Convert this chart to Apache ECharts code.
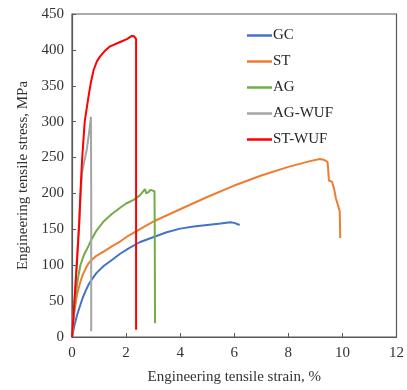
<!DOCTYPE html>
<html><head><meta charset="utf-8">
<script src="https://cdn.jsdelivr.net/npm/echarts@6/dist/echarts.min.js"></script>
<style>html,body{margin:0;padding:0;background:#fff}#c{width:407px;height:390px}</style>
</head><body><div id="c"></div>
<script>
const seriesNames = ['GC', 'ST', 'AG', 'AG-WUF', 'ST-WUF'];
const gcData = [[0,0],[0.05,9],[0.1,18],[0.2,32],[0.31,45],[0.4,55],[0.5,64],[0.6,72],[0.71,79],[0.9,89],[1.17,99],[1.5,108],[1.78,116],[2.08,123],[2.5,132],[3.0,139],[3.5,146],[4.0,151],[4.5,154],[5.0,156],[5.5,158],[5.85,160],[6.0,159],[6.2,156]];
const stData = [[0,0],[0.05,22],[0.1,38],[0.18,58],[0.31,77],[0.4,87],[0.5,95],[0.6,102],[0.71,107],[0.9,113],[1.17,119],[1.5,127],[1.78,133],[2.08,141],[2.5,150],[3.07,162],[4.0,178],[5.0,195],[6.0,211],[7.0,225],[8.0,237],[8.8,245],[9.17,248],[9.3,247],[9.45,244],[9.48,230],[9.5,218],[9.62,216],[9.7,205],[9.76,193],[9.85,182],[9.9,175],[9.91,158],[9.92,138]];
const agData = [[0,0],[0.05,25],[0.12,50],[0.18,72],[0.25,88],[0.31,100],[0.45,115],[0.61,127],[0.71,135],[0.9,148],[1.17,161],[1.46,171],[1.78,180],[2.0,186],[2.28,191],[2.5,197],[2.7,206],[2.75,200],[2.83,202],[2.9,205],[2.95,204],[3.05,203],[3.06,150],[3.07,19]];
const agWufData = [[0,0],[0.1,55],[0.2,120],[0.37,229],[0.55,262],[0.65,290],[0.7,307],[0.71,200],[0.71,8]];
const stWufData = [[0,0],[0.1,55],[0.2,115],[0.27,160],[0.31,200],[0.37,245],[0.47,300],[0.55,320],[0.61,335],[0.7,355],[0.8,372],[0.92,384],[1.04,391],[1.2,398],[1.41,405],[1.78,411],[2.03,415],[2.21,419.5],[2.3,419],[2.37,415],[2.37,200],[2.37,10]];
const xTicks = {min: 0, max: 12, interval: 2};
const yTicks = {min: 0, max: 450, interval: 50};
const colors = ['#4472C4', '#ED7D31', '#70AD47', '#A5A5A5', '#FF0000'];
const dataList = [gcData, stData, agData, agWufData, stWufData];

const font = 'Liberation Serif';
const chart = echarts.init(document.getElementById('c'), null, {renderer: 'canvas'});
chart.setOption({
  animation: false,
  backgroundColor: '#fff',
  grid: {left: 72, right: 10, top: 14, bottom: 51, show: true, borderColor: '#595959', borderWidth: 1.2, backgroundColor: 'transparent'},
  legend: {
    orient: 'vertical', left: 242, top: 23, itemGap: 11, itemWidth: 25, itemHeight: 2.5,
    icon: 'rect',
    textStyle: {fontFamily: font, fontSize: 15, color: '#262626', padding: [0, 0, 0, -4]},
    data: seriesNames
  },
  xAxis: {
    type: 'value', min: xTicks.min, max: xTicks.max, interval: xTicks.interval,
    name: 'Engineering tensile strain, %', nameLocation: 'middle', nameGap: 33,
    nameTextStyle: {fontFamily: font, fontSize: 15, color: '#333'},
    axisLine: {show: true, lineStyle: {color: '#595959', width: 1.2}},
    axisTick: {show: true, inside: true, length: 4, lineStyle: {color: '#595959'}},
    axisLabel: {fontFamily: font, fontSize: 15, color: '#333', margin: 9},
    splitLine: {show: false}
  },
  yAxis: {
    type: 'value', min: yTicks.min, max: yTicks.max, interval: yTicks.interval,
    name: 'Engineering tensile stress, MPa', nameLocation: 'middle', nameGap: 41,
    nameTextStyle: {fontFamily: font, fontSize: 15, color: '#333'},
    axisLine: {show: true, lineStyle: {color: '#595959', width: 1.2}},
    axisTick: {show: true, inside: true, length: 4, lineStyle: {color: '#595959'}},
    axisLabel: {fontFamily: font, fontSize: 15, color: '#333', margin: 8},
    splitLine: {show: false}
  },
  series: seriesNames.map((n, i) => ({
    name: n, type: 'line', data: dataList[i], showSymbol: false, symbol: 'none',
    lineStyle: {color: colors[i], width: 2}, itemStyle: {color: colors[i]}, z: 2 + i
  }))
});
</script></body></html>
